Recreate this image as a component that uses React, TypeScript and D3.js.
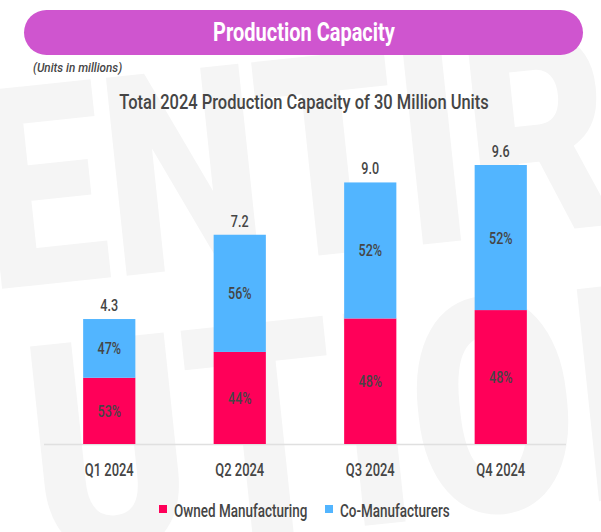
import * as d3 from "d3";
import type { ReactNode } from "react";

const quarters = ["Q1 2024", "Q2 2024", "Q3 2024", "Q4 2024"];
const totals = [4.3, 7.2, 9.0, 9.6];
const ownedPct = [53, 44, 48, 48];
const coPct = [47, 56, 52, 52];
const seriesNames = ["Owned Manufacturing", "Co-Manufacturers"];
const seriesColors = ["#ff0059", "#52b5ff"];

const width = 601;
const height = 532;
const baseline = 444;
const font = "Roboto, 'DejaVu Sans', sans-serif";
const ink = "#454545";
const squeeze = 0.74;

// no condensed face is installed, so narrow Roboto horizontally
function CText(props: {
  x: number;
  y: number;
  size: number;
  anchor?: "start" | "middle" | "end";
  fill?: string;
  weight?: number;
  italic?: boolean;
  sx?: number;
  children: ReactNode;
}) {
  const { x, y, size, anchor = "middle", fill = ink, weight = 500, italic, sx = squeeze, children } = props;
  return (
    <text
      transform={`translate(${x},${y}) scale(${sx},1)`}
      textAnchor={anchor}
      fill={fill}
      fontSize={size}
      fontWeight={weight}
      fontStyle={italic ? "italic" : "normal"}
    >
      {children}
    </text>
  );
}

export default function App() {
  const x = d3.scaleBand<string>().domain(quarters).range([44, 566]).paddingInner(0.6).paddingOuter(0.3);
  const y = d3.scaleLinear().domain([0, 9.6]).range([baseline, 165]);

  const rows = quarters.map((q, i) => ({
    q,
    total: totals[i],
    owned: (totals[i] * ownedPct[i]) / 100,
    ownedPct: ownedPct[i],
    coPct: coPct[i],
  }));

  return (
    <div style={{ position: "absolute", left: 0, top: 0, width, height, background: "#fff" }}>
      <svg width={width} height={height} style={{ display: "block", fontFamily: font }}>
        <rect width={width} height={height} fill="#ffffff" />
        {/* faint watermark */}
        <g fill="#f5f5f5" fontFamily="Roboto, sans-serif" fontWeight={900}>
          <text transform="translate(-10,290) rotate(-6) scale(0.8,1)" fontSize={280}>ENTIRE</text>
          <text transform="translate(40,560) rotate(-6) scale(0.8,1)" fontSize={300}>UTION</text>
        </g>

        <rect x={24} y={10} width={559} height={45} rx={22.5} fill="#cf55cf" />
        <CText x={304} y={41} size={25} fill="#fff" weight={700} sx={0.8}>Production Capacity</CText>
        <CText x={33} y={72} size={13} anchor="start" italic sx={0.9}>(Units in millions)</CText>
        <CText x={304} y={109} size={19.5} sx={0.845}>Total 2024 Production Capacity of 30 Million Units</CText>

        <line x1={44} x2={566} y1={baseline + 0.5} y2={baseline + 0.5} stroke="#e0e0e0" strokeWidth={1.5} />

        {rows.map((r) => {
          const bx = x(r.q) ?? 0;
          const bw = x.bandwidth();
          const cx = bx + bw / 2;
          const yTop = y(r.total);
          const ySplit = y(r.owned);
          return (
            <g key={r.q}>
              <rect x={bx} y={ySplit} width={bw} height={baseline - ySplit} fill={seriesColors[0]} />
              <rect x={bx} y={yTop} width={bw} height={ySplit - yTop} fill={seriesColors[1]} />
              <CText x={cx} y={(ySplit + baseline) / 2 + 6} size={17}>{r.ownedPct}%</CText>
              <CText x={cx} y={(yTop + ySplit) / 2 + 6} size={17}>{r.coPct}%</CText>
              <CText x={cx} y={yTop - 8} size={17}>{r.total.toFixed(1)}</CText>
              <CText x={cx} y={476} size={17.5}>{r.q}</CText>
            </g>
          );
        })}

        <g>
          <rect x={159} y={505} width={8} height={8} fill={seriesColors[0]} />
          <CText x={174} y={517} size={17.5} anchor="start" sx={0.77}>{seriesNames[0]}</CText>
          <rect x={325} y={505} width={8} height={8} fill={seriesColors[1]} />
          <CText x={340} y={517} size={17.5} anchor="start" sx={0.77}>{seriesNames[1]}</CText>
        </g>
      </svg>
    </div>
  );
}
